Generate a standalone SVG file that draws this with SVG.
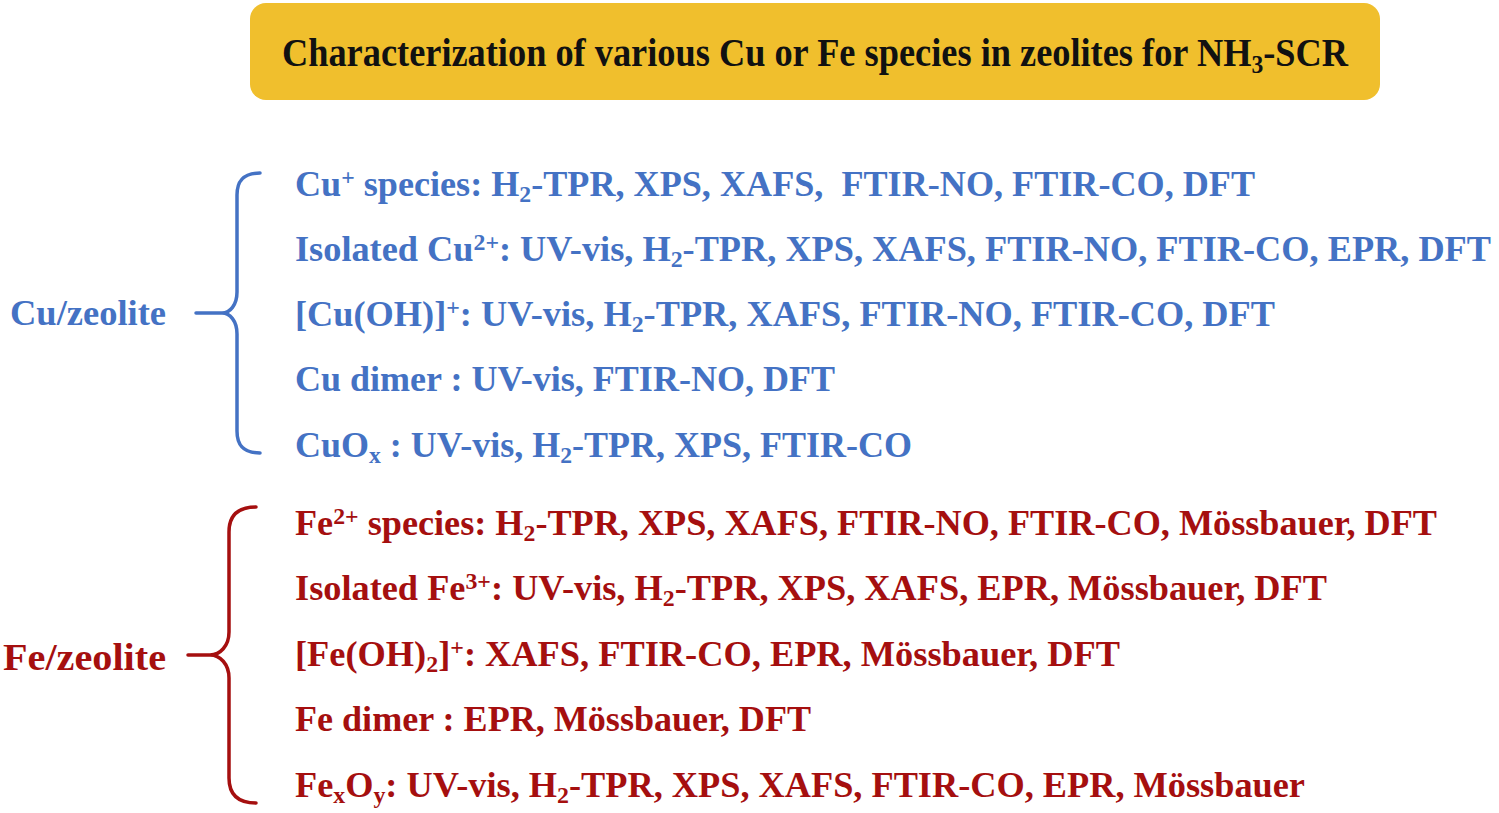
<svg xmlns="http://www.w3.org/2000/svg" width="1499" height="813" viewBox="0 0 1499 813">
<style>
.t{font-family:"Liberation Serif","Times New Roman",serif;font-weight:bold;font-size:35px;white-space:pre}
.cu{fill:#4472C4}
.fe{fill:#A50F0F}
.sub{font-size:23px;baseline-shift:-6px}
.sup{font-size:23px;baseline-shift:11px}
.br{fill:none;stroke-width:3.5;stroke-linecap:round;stroke-linejoin:round}
</style>
<rect width="1499" height="813" fill="#ffffff"/>
<g id="title">
<rect x="250" y="3" width="1130" height="97" rx="16" fill="#F0BF2D"/>
<text class="t" x="282" y="66" style="font-size:40px" fill="#111" textLength="1066" lengthAdjust="spacingAndGlyphs">Characterization of various Cu or Fe species in zeolites for NH<tspan style="font-size:26px;baseline-shift:-7px">3</tspan>-SCR</text>
</g>
<g id="cu-zeolite">
<text class="t cu" x="10" y="325" style="font-size:36px" textLength="156" lengthAdjust="spacingAndGlyphs">Cu/zeolite</text>
</g>
<g id="fe-zeolite">
<text class="t fe" x="3" y="670" style="font-size:38px" textLength="163" lengthAdjust="spacingAndGlyphs">Fe/zeolite</text>
</g>
<g id="connectors">
<path class="br" stroke="#4472C4" d="M260,173 C244,173 237,180 237,195 L237,292 C237,305 230,313 222,313 L196,313 M222,313 C230,313 237,321 237,334 L237,431 C237,446 244,453 260,453"/>
<path class="br" stroke="#A50F0F" d="M256,507 C238,507 229,515 229,532 L229,632 C229,646 220,655 210,655 L188,655 M210,655 C220,655 229,664 229,678 L229,778 C229,795 238,803 256,803"/>
</g>
<g id="cu-species">
<text class="t cu" x="295" y="196" textLength="960" lengthAdjust="spacingAndGlyphs">Cu<tspan class="sup">+</tspan> species: H<tspan class="sub">2</tspan>-TPR, XPS, XAFS,  FTIR-NO, FTIR-CO, DFT</text>
<text class="t cu" x="295" y="261" textLength="1196" lengthAdjust="spacingAndGlyphs">Isolated Cu<tspan class="sup">2+</tspan>: UV-vis, H<tspan class="sub">2</tspan>-TPR, XPS, XAFS, FTIR-NO, FTIR-CO, EPR, DFT</text>
<text class="t cu" x="295" y="326" textLength="980" lengthAdjust="spacingAndGlyphs">[Cu(OH)]<tspan class="sup">+</tspan>: UV-vis, H<tspan class="sub">2</tspan>-TPR, XAFS, FTIR-NO, FTIR-CO, DFT</text>
<text class="t cu" x="295" y="391" textLength="540" lengthAdjust="spacingAndGlyphs">Cu dimer : UV-vis, FTIR-NO, DFT</text>
<text class="t cu" x="295" y="457" textLength="617" lengthAdjust="spacingAndGlyphs">CuO<tspan class="sub">x</tspan> : UV-vis, H<tspan class="sub">2</tspan>-TPR, XPS, FTIR-CO</text>
</g>
<g id="fe-species">
<text class="t fe" x="295" y="535" textLength="1142" lengthAdjust="spacingAndGlyphs">Fe<tspan class="sup">2+</tspan> species: H<tspan class="sub">2</tspan>-TPR, XPS, XAFS, FTIR-NO, FTIR-CO, Mössbauer, DFT</text>
<text class="t fe" x="295" y="600" textLength="1032" lengthAdjust="spacingAndGlyphs">Isolated Fe<tspan class="sup">3+</tspan>: UV-vis, H<tspan class="sub">2</tspan>-TPR, XPS, XAFS, EPR, Mössbauer, DFT</text>
<text class="t fe" x="295" y="666" textLength="825" lengthAdjust="spacingAndGlyphs">[Fe(OH)<tspan class="sub">2</tspan>]<tspan class="sup">+</tspan>: XAFS, FTIR-CO, EPR, Mössbauer, DFT</text>
<text class="t fe" x="295" y="731" textLength="516" lengthAdjust="spacingAndGlyphs">Fe dimer : EPR, Mössbauer, DFT</text>
<text class="t fe" x="295" y="797" textLength="1010" lengthAdjust="spacingAndGlyphs">Fe<tspan class="sub">x</tspan>O<tspan class="sub">y</tspan>: UV-vis, H<tspan class="sub">2</tspan>-TPR, XPS, XAFS, FTIR-CO, EPR, Mössbauer</text>
</g>
</svg>
